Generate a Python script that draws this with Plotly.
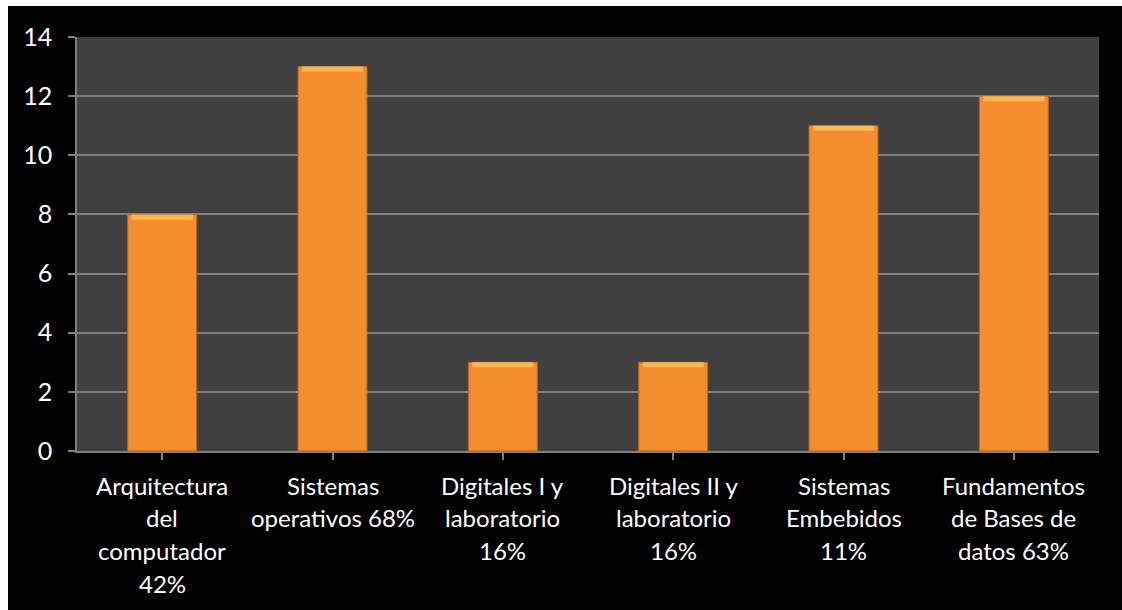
import plotly.graph_objects as go

# Course names (line breaks as shown under each bar) and counts
categories = [
    "Arquitectura<br>del<br>computador<br>42%",
    "Sistemas<br>operativos 68%",
    "Digitales I y<br>laboratorio<br>16%",
    "Digitales II y<br>laboratorio<br>16%",
    "Sistemas<br>Embebidos<br>11%",
    "Fundamentos<br>de Bases de<br>datos 63%",
]
values = [8, 13, 3, 3, 11, 12]
y_ticks = [0, 2, 4, 6, 8, 10, 12, 14]

FONT = "Lato"
ORANGE = "#F48D2D"
ORANGE_LIGHT = "#FFB653"
ORANGE_EDGE = "#B9651F"
GRID = "#808080"

xs = list(range(len(categories)))
bevel = 0.17

fig = go.Figure()
# main bar body
fig.add_trace(go.Bar(
    x=xs, y=values, width=0.405,
    marker=dict(color=ORANGE, line=dict(color=ORANGE_EDGE, width=1)),
    hoverinfo="skip", showlegend=False,
))
# lighter bevel along the top edge of each bar
fig.add_trace(go.Bar(
    x=xs, y=[bevel] * len(values), base=[v - bevel for v in values], width=0.36,
    marker=dict(color=ORANGE_LIGHT, line=dict(width=0)),
    hoverinfo="skip", showlegend=False,
))

# multi-line category labels, one annotation per line
line_gap = 32.7
for i, label in enumerate(categories):
    for j, part in enumerate(label.split("<br>")):
        fig.add_annotation(
            x=xs[i], xref="x", y=0, yref="paper",
            text=part, showarrow=False,
            yanchor="middle", xanchor="center",
            yshift=-(34 + j * line_gap),
            font=dict(family=FONT, size=24, color="white"),
        )

# white frame strips at the top and left edges of the page
L, R, T, B, W, H = 77, 23, 37, 159, 1122, 610
pw, ph = W - L - R, H - T - B
fig.add_shape(type="rect", xref="paper", yref="paper",
              x0=-L / pw, x1=(8 - L) / pw, y0=-B / ph, y1=(H - B) / ph,
              fillcolor="white", line=dict(width=0), layer="below")
fig.add_shape(type="rect", xref="paper", yref="paper",
              x0=-L / pw, x1=(W - L) / pw, y0=(H - B - 6) / ph, y1=(H - B) / ph,
              fillcolor="white", line=dict(width=0), layer="below")

fig.update_layout(
    width=W, height=H,
    margin=dict(l=L, r=R, t=T, b=B),
    paper_bgcolor="black",
    plot_bgcolor="#404040",
    barmode="overlay",
    bargap=0.6,
    font=dict(family=FONT, size=24, color="white"),
    xaxis=dict(
        range=[-0.5, len(categories) - 0.5],
        tickvals=xs, showticklabels=False,
        tickson="boundaries", ticks="outside", ticklen=7, tickwidth=1.5, tickcolor=GRID,
        showgrid=False, showline=True, linecolor=GRID, linewidth=1.5,
        zeroline=False, fixedrange=True,
    ),
    yaxis=dict(
        range=[0, 14], tickvals=y_ticks,
        ticks="outside", ticklen=7, tickwidth=1.5, tickcolor=GRID,
        ticklabelstandoff=11,
        tickfont=dict(family=FONT, size=25, color="white"),
        showgrid=True, gridcolor=GRID, gridwidth=1.5,
        showline=True, linecolor=GRID, linewidth=1.5,
        zeroline=False, fixedrange=True,
    ),
)

fig.write_html("out.html")
